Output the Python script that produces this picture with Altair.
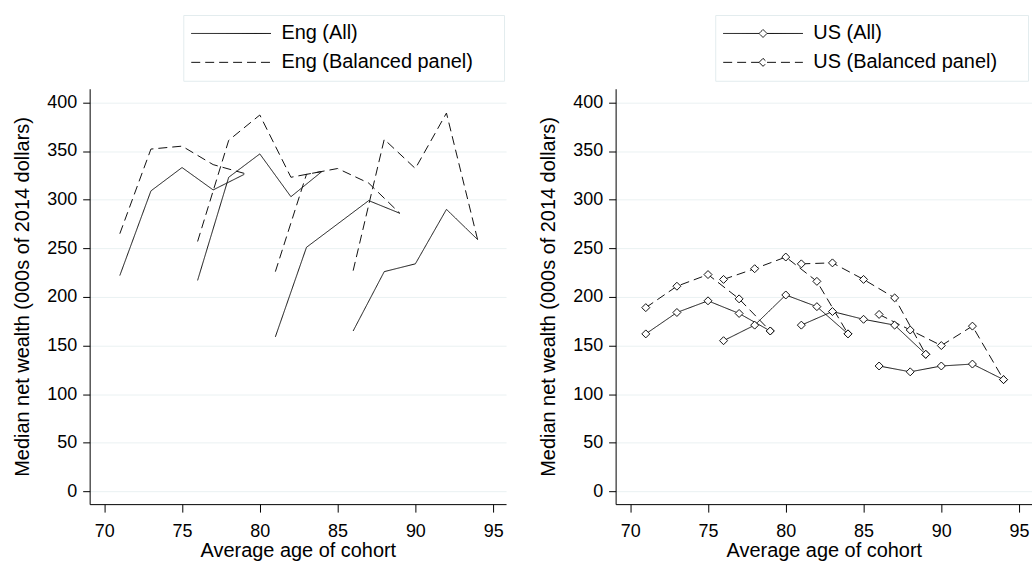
import altair as alt
import pandas as pd

# Cohort ages (each cohort observed every 2 years)
cohort_ages = [
    [71, 73, 75, 77, 79],
    [76, 78, 80, 82, 84],
    [81, 83, 85, 87, 89],
    [86, 88, 90, 92, 94],
]

# England median net wealth (000s of 2014 dollars)
eng_all = [
    [222, 309, 333, 310, 326],
    [217, 323, 347, 303, 329],
    [159, 251, 275, 299, 286],
    [165, 226, 234, 290, 259],
]
eng_bal = [
    [265, 352, 355, 336, 327],
    [257, 361, 387, 323, 329],
    [226, 326, 332, 317, 286],
    [227, 362, 332, 389, 259],
]

# US median net wealth (000s of 2014 dollars)
us_all = [
    [162, 184, 196, 183, 165],
    [155, 171, 202, 190, 162],
    [171, 185, 177, 171, 141],
    [129, 123, 129, 131, 115],
]
us_bal = [
    [189, 211, 223, 198, 165],
    [218, 229, 241, 216, 162],
    [234, 235, 218, 199, 141],
    [182, 166, 150, 170, 115],
]

eng_labels = ["Eng (All)", "Eng (Balanced panel)"]
us_labels = ["US (All)", "US (Balanced panel)"]

x_ticks = [70, 75, 80, 85, 90, 95]
y_ticks = [0, 50, 100, 150, 200, 250, 300, 350, 400]


def build_df(series_lists, labels):
    rows = []
    for label, series in zip(labels, series_lists):
        for ci, (ages, vals) in enumerate(zip(cohort_ages, series)):
            for a, v in zip(ages, vals):
                rows.append({"age": a, "value": v, "series": label,
                             "key": f"{label}-{ci}"})
    return pd.DataFrame(rows)


eng_df = build_df([eng_all, eng_bal], eng_labels)
us_df = build_df([us_all, us_bal], us_labels)

INK = "#111111"
NBSP = "\u00a0"
ZWSP = "\u200b"


def panel(df, labels, with_points, symbol_path, legend_x, extra_spaces):
    x = alt.X("age:Q",
              scale=alt.Scale(domain=[69.06, 95.83], nice=False, zero=False),
              axis=alt.Axis(values=x_ticks, title="Average age of cohort",
                            grid=False, tickSize=8, labelPadding=10,
                            titlePadding=1))
    y = alt.Y("value:Q",
              scale=alt.Scale(domain=[-13, 414], nice=False, zero=False),
              axis=alt.Axis(values=y_ticks,
                            title="Median net wealth (000s of 2014 dollars)",
                            grid=True, tickSize=7, labelPadding=6,
                            titlePadding=14))
    dash = alt.StrokeDash(
        "series:N",
        scale=alt.Scale(domain=labels, range=[[1, 0], [9, 5]]),
        title=None,
        legend=alt.Legend(
            orient="none", legendX=legend_x, legendY=-74,
            direction="vertical",
            symbolType=symbol_path, symbolSize=400,
            symbolOffset=29.5, labelOffset=40,
            symbolStrokeColor=INK, symbolStrokeWidth=1,
            symbolFillColor="white",
            labelFont="Liberation Sans", labelFontSize=20,
            labelColor="#000000", labelLimit=400,
            labelExpr="datum.label + '" + NBSP * extra_spaces + ZWSP + "'",
            rowPadding=8, padding=8,
            strokeColor="#e3ecee", fillColor="white",
        ),
    )
    lines = alt.Chart(df).mark_line(color=INK, strokeWidth=1).encode(
        x=x, y=y, strokeDash=dash, detail="key:N", order="age:Q")
    layers = [lines]
    if with_points:
        pts = alt.Chart(df).mark_point(shape="diamond", filled=True,
                                       fill="white", stroke=INK,
                                       strokeWidth=1, size=64,
                                       opacity=1).encode(x=x, y=y)
        layers.append(pts)
    return alt.layer(*layers).properties(width=418, height=417)


left = panel(eng_df, eng_labels, False, "M-4,0H4", 94, 4)
right = panel(us_df, us_labels,
              True,
              "M-4,0H-0.4M0.4,0H4M-0.4,0L0,-0.4L0.4,0L0,0.4Z", 100, 4)

chart = (
    alt.hconcat(left, right, spacing=32)
    .resolve_scale(strokeDash="independent", x="independent", y="independent")
    .resolve_legend(strokeDash="independent")
    .properties(padding={"left": 12, "top": 13, "right": 0, "bottom": 0},
                background="white")
    .configure_view(stroke=None)
    .configure_axis(
        domainColor="#000000", domainWidth=1,
        tickColor="#000000", tickWidth=1,
        labelFont="Liberation Sans", labelFontSize=18, labelColor="#000000",
        titleFont="Liberation Sans", titleFontSize=20, titleColor="#000000",
        titleFontWeight="normal",
        gridColor="#eaf1f2", gridWidth=1,
    )
)

chart.save("out.html", embed_options={"renderer": "svg", "actions": False})
